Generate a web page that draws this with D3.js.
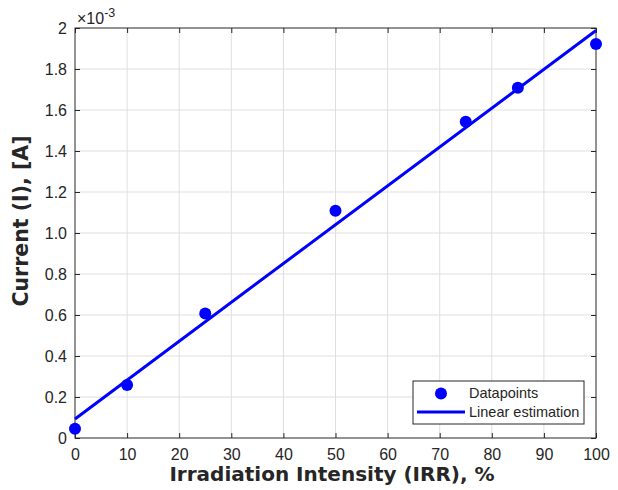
<!DOCTYPE html>
<html>
<head>
<meta charset="utf-8">
<script src="https://cdn.jsdelivr.net/npm/d3@7"></script>
<style>
  html, body { margin: 0; padding: 0; background: #fff; }
  svg { display: block; }
</style>
</head>
<body>
<svg id="chart" width="618" height="490"></svg>
<script>
// Measured irradiation levels (%) and currents (×10^-3 A)
const irradiation = [0, 10, 25, 50, 75, 85, 100];
const current = [0.045, 0.258, 0.607, 1.109, 1.543, 1.709, 1.922];

// Linear estimation endpoints (×10^-3 A)
const fitX = [0, 100];
const fitY = [0.093, 1.988];

const xTicks = [0, 10, 20, 30, 40, 50, 60, 70, 80, 90, 100];
const yTicks = [0, 0.2, 0.4, 0.6, 0.8, 1.0, 1.2, 1.4, 1.6, 1.8, 2];
const yTickLabels = ["0", "0.2", "0.4", "0.6", "0.8", "1.0", "1.2", "1.4", "1.6", "1.8", "2"];

const margin = { left: 75, right: 22, top: 28, bottom: 52 };
const W = 618, H = 490;
const svg = d3.select("#chart");
const pw = W - margin.left - margin.right;
const ph = H - margin.top - margin.bottom;

const x = d3.scaleLinear().domain([0, 100]).range([margin.left, margin.left + pw]);
const y = d3.scaleLinear().domain([0, 2]).range([margin.top + ph, margin.top]);

const blue = "#0000ff";
const axisColor = "#262626";
const tickFont = "Liberation Sans, Arial, sans-serif";
const titleFont = "DejaVu Sans, Verdana, sans-serif";

// grid
const grid = svg.append("g");
grid.selectAll("line.gx").data(xTicks.slice(1, -1)).join("line")
  .attr("x1", d => x(d)).attr("x2", d => x(d))
  .attr("y1", margin.top).attr("y2", margin.top + ph)
  .attr("stroke", "#dfdfdf").attr("stroke-width", 1);
grid.selectAll("line.gy").data(yTicks.slice(1, -1)).join("line")
  .attr("y1", d => y(d)).attr("y2", d => y(d))
  .attr("x1", margin.left).attr("x2", margin.left + pw)
  .attr("stroke", "#dfdfdf").attr("stroke-width", 1);

// axes (ticks pointing inward, mirrored on top/right)
function styleAxis(g) {
  g.select(".domain").remove();
  g.selectAll(".tick line").attr("stroke", axisColor);
  g.selectAll(".tick text").attr("fill", axisColor)
    .attr("font-family", tickFont).attr("font-size", 16);
}
svg.append("g").attr("transform", `translate(0,${margin.top + ph})`)
  .call(d3.axisBottom(x).tickValues(xTicks).tickSizeInner(-5).tickSizeOuter(0).tickPadding(11).tickFormat(d3.format("d")))
  .call(styleAxis);
svg.append("g").attr("transform", `translate(0,${margin.top})`)
  .call(d3.axisTop(x).tickValues(xTicks).tickSizeInner(-5).tickSizeOuter(0).tickFormat(""))
  .call(styleAxis);
svg.append("g").attr("transform", `translate(${margin.left},0)`)
  .call(d3.axisLeft(y).tickValues(yTicks).tickSizeInner(-5).tickSizeOuter(0).tickPadding(8)
    .tickFormat((d, i) => yTickLabels[i]))
  .call(styleAxis);
svg.append("g").attr("transform", `translate(${margin.left + pw},0)`)
  .call(d3.axisRight(y).tickValues(yTicks).tickSizeInner(-5).tickSizeOuter(0).tickFormat(""))
  .call(styleAxis);

// plot box
svg.append("rect")
  .attr("x", margin.left).attr("y", margin.top).attr("width", pw).attr("height", ph)
  .attr("fill", "none").attr("stroke", axisColor).attr("stroke-width", 1);

// exponent label
const expo = svg.append("text").attr("x", margin.left + 2).attr("y", 23.5)
  .attr("font-family", tickFont).attr("font-size", 16).attr("fill", axisColor);
expo.append("tspan").text("\u00d710");
expo.append("tspan").attr("dy", -7).attr("font-size", 12.5).text("-3");

// linear estimation
const line = d3.line().x(d => x(d[0])).y(d => y(d[1]));
svg.append("path").datum(d3.zip(fitX, fitY)).attr("d", line)
  .attr("fill", "none").attr("stroke", blue).attr("stroke-width", 3);

// datapoints
svg.append("g").selectAll("circle").data(d3.zip(irradiation, current)).join("circle")
  .attr("cx", d => x(d[0])).attr("cy", d => y(d[1])).attr("r", 6)
  .attr("fill", blue);

// axis titles
svg.append("text")
  .attr("x", 332).attr("y", 481)
  .attr("text-anchor", "middle")
  .attr("font-family", titleFont).attr("font-weight", "bold")
  .attr("font-size", 20).attr("fill", axisColor)
  .text("Irradiation Intensity (IRR), %");
svg.append("text")
  .attr("transform", "translate(28,221) rotate(-90)")
  .attr("text-anchor", "middle")
  .attr("font-family", titleFont).attr("font-weight", "bold")
  .attr("font-size", 20.5).attr("fill", axisColor)
  .text("Current (I), [A]");

// legend
const lg = svg.append("g").attr("transform", "translate(413,381)");
lg.append("rect").attr("width", 171).attr("height", 43)
  .attr("fill", "#fff").attr("stroke", axisColor).attr("stroke-width", 1);
lg.append("circle").attr("cx", 28).attr("cy", 12.5).attr("r", 6).attr("fill", blue);
lg.append("line").attr("x1", 4).attr("x2", 52).attr("y1", 31).attr("y2", 31)
  .attr("stroke", blue).attr("stroke-width", 3);
lg.append("text").attr("x", 56).attr("y", 16.5).attr("font-family", tickFont)
  .attr("font-size", 14.5).attr("fill", axisColor).text("Datapoints");
lg.append("text").attr("x", 56).attr("y", 36.3).attr("font-family", tickFont)
  .attr("font-size", 14.5).attr("fill", axisColor).text("Linear estimation");
</script>
</body>
</html>
